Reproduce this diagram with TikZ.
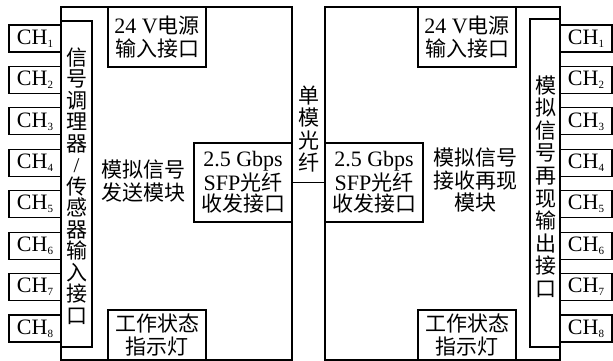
\documentclass[tikz,border=0pt]{standalone}
\usepackage{fontspec}
\setmainfont{Liberation Serif}
\newfontfamily\cjk{Noto Sans CJK SC}
\newcommand\en[1]{{\rmfamily\fontsize{22}{22}\selectfont #1}}
\newcommand\chsub[1]{\raisebox{-3pt}{\fontsize{11}{11}\selectfont #1}}
\begin{document}
\begin{tikzpicture}[x=1pt,y=-1pt,line width=1.1pt,
  box/.style={draw,inner sep=0pt,align=center},
  chbox/.style={box,minimum width=52pt,minimum height=27pt,font=\rmfamily\fontsize{22}{22}\selectfont},
  zh/.style={inner sep=0pt,align=center,font=\cjk\fontsize{21}{#1}\selectfont},
  zh/.default=22.5]
\useasboundingbox (0,0) rectangle (613,361);
% left module
\node[box,minimum width=231pt,minimum height=353pt] (L) at (176.5,183.5) {};
\node[box,minimum width=31pt,minimum height=326pt] (Ls) at (76.5,184) {};
\node[zh=21.5] (Lst) at (76.5,186) {信\\号\\调\\理\\器\\{\rmfamily /}\\传\\感\\器\\输\\入\\接\\口};
\node[box,minimum width=98pt,minimum height=60pt,font=\cjk\fontsize{21}{22.5}\selectfont] (pwL) at (157,37) {\en{24 V}电源\\输入接口};
\node[box,minimum width=98pt,minimum height=79pt,font=\cjk\fontsize{21}{21.5}\selectfont] (sfpL) at (243,182.5) {\en{2.5 Gbps}\\\en{SFP}光纤\\收发接口};
\node[box,minimum width=98pt,minimum height=50pt,font=\cjk\fontsize{21}{23}\selectfont] (stL) at (157,335) {工作状态\\指示灯};
\node[zh=23] (mL) at (143,181.5) {模拟信号\\发送模块};
% right module
\node[box,minimum width=235pt,minimum height=353pt] (R) at (442.5,183.5) {};
\node[box,minimum width=30pt,minimum height=328pt] (Rs) at (545,183) {};
\node[zh=22.6] (Rst) at (545.5,186.5) {模\\拟\\信\\号\\再\\现\\输\\出\\接\\口};
\node[box,minimum width=98pt,minimum height=60pt,font=\cjk\fontsize{21}{22.5}\selectfont] (pwR) at (467,37) {\en{24 V}电源\\输入接口};
\node[box,minimum width=98pt,minimum height=79pt,font=\cjk\fontsize{21}{21.5}\selectfont] (sfpR) at (374,182.5) {\en{2.5 Gbps}\\\en{SFP}光纤\\收发接口};
\node[box,minimum width=98pt,minimum height=50pt,font=\cjk\fontsize{21}{23}\selectfont] (stR) at (467,335) {工作状态\\指示灯};
\node[zh=22.5] (mR) at (475,180.5) {模拟信号\\接收再现\\模块};
% fibre
\draw (sfpL.east) -- (sfpR.west);
\node[zh=22.6] (fib) at (308.5,129) {单\\模\\光\\纤};
% channels
\foreach \k in {1,...,8} {
  \node[chbox] (cl\k) at (35,{38.5+41.43*(\k-1)}) {CH\chsub{\k}};
  \node[chbox] (cr\k) at (586,{38.5+41.43*(\k-1)}) {CH\chsub{\k}};
}
\end{tikzpicture}
\end{document}
